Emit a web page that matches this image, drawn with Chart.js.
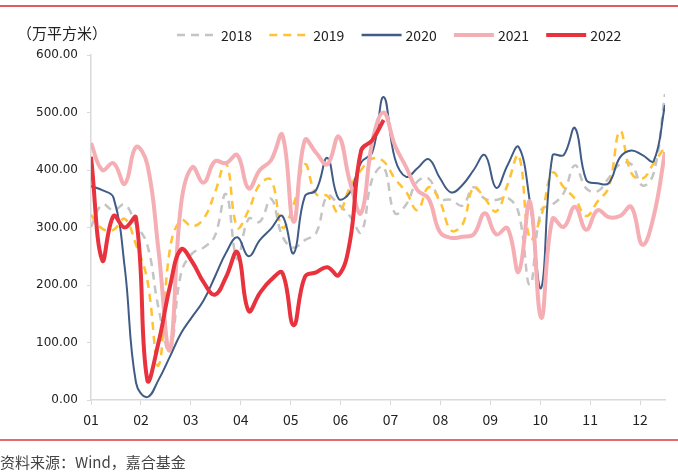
<!DOCTYPE html>
<html><head><meta charset="utf-8">
<script src="https://cdn.jsdelivr.net/npm/chart.js@4/dist/chart.umd.min.js"></script>
<style>
html,body{margin:0;padding:0;background:#fff;}
#wrap{position:relative;width:678px;height:475px;overflow:hidden;background:#fff;}
#c{position:absolute;left:0;top:0;}
.rule{position:absolute;left:0;width:678px;}
#unit{position:absolute;left:17px;top:22px;font:15px "Noto Sans CJK SC";color:#222;white-space:nowrap;}
#src{position:absolute;left:0;top:451px;font:15px "Noto Sans CJK SC";color:#444;white-space:nowrap;}
</style></head><body>
<div id="wrap">
<canvas id="c" width="678" height="475"></canvas>
<div class="rule" style="top:5px;height:2px;background:#E05A5E"></div>
<div class="rule" style="top:439px;height:2px;background:#E46C70"></div>
<div id="unit">（万平方米）</div>
<div id="src">资料来源：Wind，嘉合基金</div>
</div>
<script>
// tick labels (months) and series names
const monthLabels = ['01','02','03','04','05','06','07','08','09','10','11','12'];
const seriesNames = ['2018','2019','2020','2021','2022'];

// weekly values (万平方米)
const v2018 = [301,340,330,340,305,270,160,85,220,255,265,285,358,245,315,310,350,285,265,278,290,355,340,320,292,385,405,325,340,380,385,350,348,338,370,350,348,352,325,200,330,340,360,408,368,363,386,410,410,373,395,532];
const v2019 = [322,298,296,315,270,209,60,261,313,302,315,360,412,300,330,375,383,300,340,410,358,355,326,370,400,420,415,385,362,330,370,345,295,305,370,350,328,374,425,280,320,395,370,350,320,345,370,468,395,385,412,440];
const v2020 = [372,365,352,230,30,5,35,75,116,145,173,214,256,283,250,278,298,320,255,354,365,421,350,361,413,431,527,420,388,403,419,386,361,374,400,426,369,408,440,344,195,425,426,473,383,377,377,422,434,426,416,513];
const v2021 = [447,400,412,376,440,410,260,87,340,405,378,415,412,426,368,400,417,461,310,452,430,410,458,380,325,450,500,443,405,365,350,292,282,284,288,325,288,299,223,345,143,315,301,336,296,330,318,320,336,270,320,431];
const v2022 = [423,243,320,300,317,35,100,196,262,240,205,183,214,257,155,186,209,221,130,214,222,231,217,275,434,452,487];

const toPts = arr => arr.map((v, i) => ({x: i, y: v}));
const weeksPerMonth = 51 / 11.5;

const legendPlugin = {
  id: 'customLegend',
  afterDraw(chart) {
    const ctx = chart.ctx;
    const y = 35;
    chart.data.datasets.forEach((ds, k) => {
      const x0 = 177 + k * 92.3;
      ctx.save();
      ctx.strokeStyle = ds.borderColor;
      ctx.lineWidth = ds.legendLineWidth;
      ctx.setLineDash(ds.borderDash || []);
      ctx.beginPath(); ctx.moveTo(x0, y); ctx.lineTo(x0 + 40, y); ctx.stroke();
      ctx.setLineDash([]);
      ctx.fillStyle = '#222';
      ctx.font = '14px "Noto Sans CJK SC"';
      ctx.textBaseline = 'middle';
      ctx.textAlign = 'left';
      ctx.fillText(ds.label, x0 + 44, y + 1);
      ctx.restore();
    });
  }
};

const common = {pointRadius: 0, pointHoverRadius: 0, tension: 0.42, fill: false};

new Chart(document.getElementById('c'), {
  type: 'line',
  data: {
    datasets: [
      Object.assign({label: seriesNames[0], data: toPts(v2018), borderColor: '#C4C4C4', borderWidth: 2.5, borderDash: [8,6], legendLineWidth: 2.5, order: 4}, common),
      Object.assign({label: seriesNames[1], data: toPts(v2019), borderColor: '#FFC233', borderWidth: 2.5, borderDash: [8,6], legendLineWidth: 2.5, order: 3}, common),
      Object.assign({label: seriesNames[2], data: toPts(v2020), borderColor: '#3F5B86', borderWidth: 2, legendLineWidth: 2.5, order: 2}, common),
      Object.assign({label: seriesNames[3], data: toPts(v2021), borderColor: '#F5AEB4', borderWidth: 4, legendLineWidth: 4, order: 1}, common),
      Object.assign({label: seriesNames[4], data: toPts(v2022), borderColor: '#E8323E', borderWidth: 4, legendLineWidth: 4, order: 0}, common)
    ]
  },
  options: {
    responsive: false,
    animation: false,
    devicePixelRatio: 1,
    layout: {padding: {top: 55, right: 13, left: 0, bottom: 30}},
    plugins: {legend: {display: false}, tooltip: {enabled: false}},
    scales: {
      x: {
        type: 'linear', min: 0, max: 51,
        afterBuildTicks: s => { s.ticks = monthLabels.map((_, k) => ({value: k * weeksPerMonth})); },
        afterFit: s => { s.height = 45; },
        ticks: {autoSkip: false, maxRotation: 0, padding: 6, color: '#222',
                font: {family: '"Noto Sans CJK SC"', size: 14},
                callback: (v, i) => monthLabels[i]},
        grid: {drawOnChartArea: false, drawTicks: true, tickLength: 5, color: '#D9D9D9'},
        border: {color: '#D9D9D9', width: 1.5}
      },
      y: {
        min: 0, max: 600,
        afterFit: s => { s.width = 91; },
        ticks: {stepSize: 100, padding: 9, color: '#222',
                font: {family: '"DejaVu Sans"', size: 12},
                callback: v => Number(v).toFixed(2)},
        grid: {drawOnChartArea: false, drawTicks: true, tickLength: 4, color: '#D9D9D9'},
        border: {color: '#D9D9D9', width: 1.5}
      }
    }
  },
  plugins: [legendPlugin]
});
</script>
</body></html>
